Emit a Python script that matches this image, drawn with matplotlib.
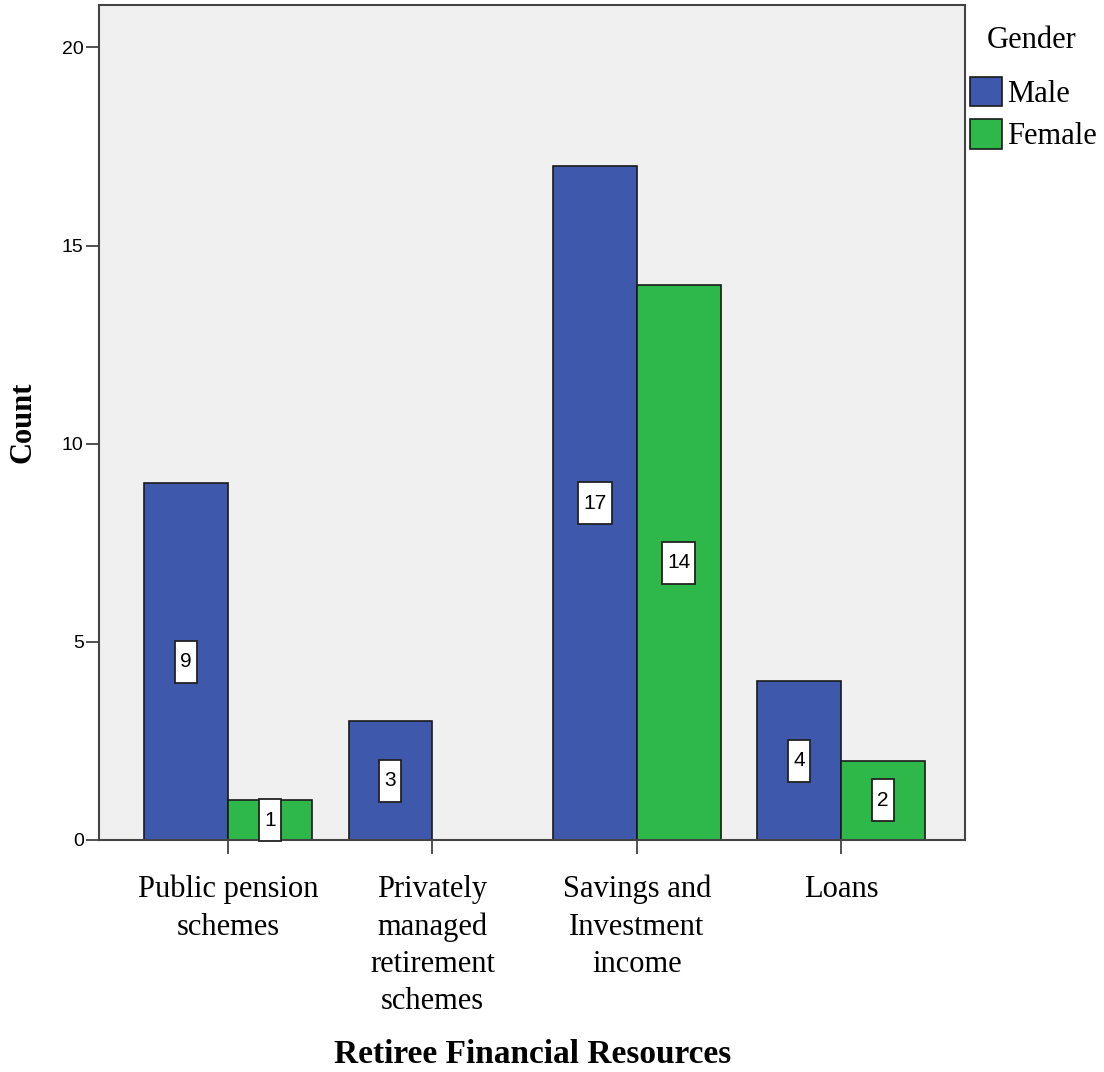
import numpy as np
import matplotlib.pyplot as plt
from matplotlib.patches import Patch
from matplotlib.path import Path

# data
categories = ['Public pension\nschemes', 'Privately\nmanaged\nretirement\nschemes',
              'Savings and\nInvestment\nincome', 'Loans']
male = [9, 3, 17, 4]
female = [1, 0, 14, 2]

blue = '#3E58AC'
green = '#2FB84A'


def tall_box(x0, y0, width, height, mutation_size):
    # label box that is taller than wide, like the SPSS value labels
    px, py = 0.25 * mutation_size, 0.55 * mutation_size
    x0, y0 = x0 - px, y0 - py
    x1, y1 = x0 + width + 2 * px, y0 + height + 2 * py
    return Path([(x0, y0), (x1, y0), (x1, y1), (x0, y1), (x0, y0)], closed=True)


fig = plt.figure(figsize=(11.04, 10.72), dpi=100)
ax = fig.add_axes([99/1104, 1-840/1072, 866/1104, 835/1072])
ax.set_facecolor('#F0F0F0')

x = np.arange(len(categories))
w = 0.41
bm = ax.bar(x - w/2, male, w, color=blue, edgecolor='#1a1a1a', linewidth=1.2, zorder=2)
bf = ax.bar(x + w/2, female, w, color=green, edgecolor='#1a1a1a', linewidth=1.2, zorder=2)

# value labels in the middle of each bar
for bars, vals in [(bm, male), (bf, female)]:
    for b, v in zip(bars, vals):
        if v == 0:
            continue
        ax.text(b.get_x() + b.get_width()/2, v/2, str(v), ha='center', va='center',
                fontsize=15, family='Liberation Sans', zorder=3,
                bbox=dict(boxstyle=tall_box, facecolor='white', edgecolor='#222222', linewidth=1.3))

ax.set_xlim(-0.631, 3.606)
ax.set_ylim(0, 21.07)
ax.set_yticks([0, 5, 10, 15, 20])
ax.set_xticks(x)
ax.set_xticklabels(categories, family='Liberation Serif', fontsize=22, linespacing=1.38)
for lab in ax.get_yticklabels():
    lab.set_family('Liberation Sans')
    lab.set_fontsize(14)
ax.tick_params(axis='y', length=9.5, width=1.2, color='#333333', pad=1.5)
ax.tick_params(axis='x', length=10, width=1.2, color='#333333', pad=15)
for s in ax.spines.values():
    s.set_color('#444444')
    s.set_linewidth(1.5)

ax.set_ylabel('Count', family='Liberation Serif', fontweight='bold', fontsize=22)
ax.yaxis.set_label_coords((38-99)/866, 0.5)
ax.set_xlabel('Retiree Financial Resources', family='Liberation Serif', fontweight='bold', fontsize=24)
ax.xaxis.set_label_coords((533-99)/866, (840-1039)/835)

# legend outside on the right
fig.text(1032/1104, 1-40/1072, 'Gender', ha='center', va='center',
         family='Liberation Serif', fontsize=22)
handles = [Patch(facecolor=blue, edgecolor='#1a1a1a', linewidth=1.2, label='Male'),
           Patch(facecolor=green, edgecolor='#1a1a1a', linewidth=1.2, label='Female')]
leg = fig.legend(handles=handles, loc='upper left', bbox_to_anchor=(967/1104, 1-74/1072),
                 frameon=False, prop={'family': 'Liberation Serif', 'size': 22},
                 handlelength=1.05, handleheight=1.1, handletextpad=0.16, labelspacing=0.33,
                 borderpad=0.1, borderaxespad=0)

fig.savefig('out.png', dpi=100)
